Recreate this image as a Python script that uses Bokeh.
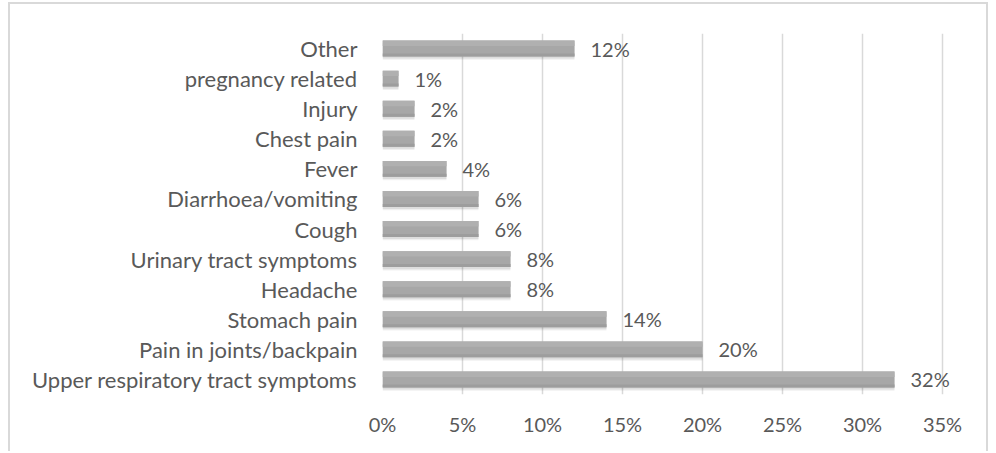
from bokeh.plotting import figure
from bokeh.models import ColumnDataSource, NumeralTickFormatter, FixedTicker
from bokeh.transform import dodge
from bokeh.core.properties import value
from bokeh.embed import file_html
from bokeh.resources import INLINE

categories = ["Upper respiratory tract symptoms", "Pain in joints/backpain", "Stomach pain",
              "Headache", "Urinary tract symptoms", "Cough", "Diarrhoea/vomiting", "Fever",
              "Chest pain", "Injury", "pregnancy related", "Other"]
values = [0.32, 0.20, 0.14, 0.08, 0.08, 0.06, 0.06, 0.04, 0.02, 0.02, 0.01, 0.12]
labels = ["32%", "20%", "14%", "8%", "8%", "6%", "6%", "4%", "2%", "2%", "1%", "12%"]
x_ticks = [0, 0.05, 0.10, 0.15, 0.20, 0.25, 0.30, 0.35]

FONT = "Lato"
TEXT = "#595959"
BORDER = "2px solid #d9d9d9"

src = ColumnDataSource(dict(cat=categories, val=values, lab=labels))

# x range extends a little past 35% so that the "32%" data label is not clipped
p = figure(width=980, height=449, y_range=categories, x_range=(0, 0.37),
           output_backend="svg", toolbar_location=None,
           min_border_left=372, min_border_right=16, min_border_top=29, min_border_bottom=59,
           styles={"border-top": BORDER, "border-left": BORDER, "border-right": BORDER,
                   "position": "absolute", "left": "8px", "top": "2px", "margin": "0px"})
p.outline_line_color = None
p.background_fill_color = "white"
p.y_range.range_padding = 0

BH = 0.53
# soft shadow
p.hbar(y=dodge("cat", -0.11, range=p.y_range), right="val", left=0, height=BH,
       source=src, fill_color="#000000", fill_alpha=0.06, line_color=None)
p.hbar(y=dodge("cat", -0.07, range=p.y_range), right="val", left=0, height=BH,
       source=src, fill_color="#000000", fill_alpha=0.08, line_color=None)
# main bar (banded to mimic gradient)
p.hbar(y="cat", right="val", left=0, height=BH, source=src,
       fill_color="#a7a7a7", line_color=None)
p.hbar(y=dodge("cat", BH / 2 - 0.09, range=p.y_range), right="val", left=0, height=0.18,
       source=src, fill_color="#b0b0b0", line_color=None)
p.hbar(y=dodge("cat", -BH / 2 + 0.05, range=p.y_range), right="val", left=0, height=0.10,
       source=src, fill_color="#9d9d9d", line_color=None)

p.text(x="val", y="cat", text="lab", source=src, x_offset=16, text_baseline="middle",
       text_align="left", text_font=value(FONT), text_font_size="20px", text_color=TEXT)

p.xaxis.ticker = FixedTicker(ticks=x_ticks)
p.xaxis.formatter = NumeralTickFormatter(format="0%")
for ax in (p.xaxis[0], p.yaxis[0]):
    ax.axis_line_color = None
    ax.major_tick_line_color = None
    ax.minor_tick_line_color = None
    ax.major_label_text_font = FONT
    ax.major_label_text_color = TEXT
p.xaxis.major_label_text_font_size = "20px"
p.yaxis.major_label_text_font_size = "22px"
p.yaxis.major_label_standoff = 19
p.xaxis.major_label_standoff = 11

p.ygrid.grid_line_color = None
p.xgrid.grid_line_color = "#d9d9d9"
p.xgrid.grid_line_width = 1.5
p.xgrid.ticker = FixedTicker(ticks=x_ticks)

open("out.html", "w").write(file_html(p, INLINE))
